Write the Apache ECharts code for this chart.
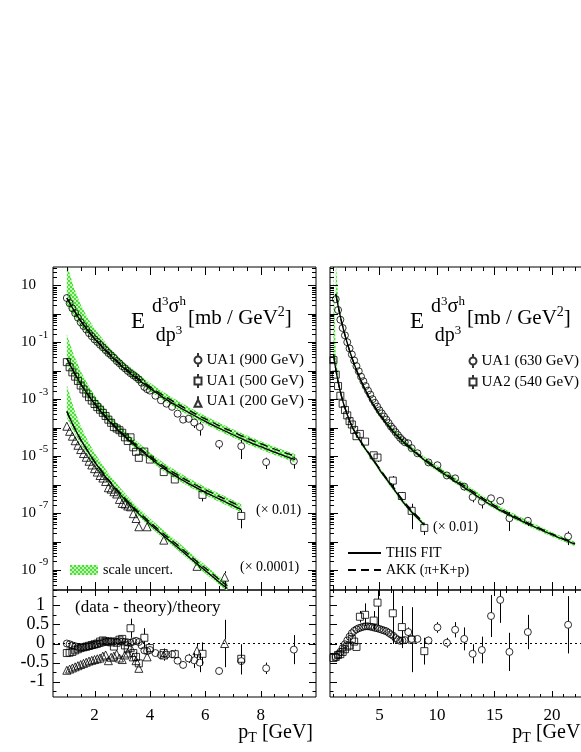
<!DOCTYPE html>
<html>
<head>
<meta charset="utf-8">
<script src="https://cdn.jsdelivr.net/npm/echarts@6/dist/echarts.min.js"></script>
<style>
  html, body { margin: 0; padding: 0; background: #fff; }
  #chart { width: 581px; height: 752px; }
</style>
</head>
<body>
<div id="chart"></div>
<script>
// values on the cross-section panels are log10(E d3sigma/dp3 [mb/GeV^2])

// ---- UA1 900 GeV (circles) ----
const pt900 = [1.0,1.1,1.2,1.3,1.4,1.5,1.6,1.7,1.8,1.9,2.0,2.1,2.2,2.3,2.4,2.5,2.6,2.7,2.8,2.9,3.0,3.1,3.2,3.3,3.4,3.5,3.6,3.7,3.8,3.9,4.0,4.2,4.4,4.6,4.8,5.0,5.2,5.4,5.6,5.8,6.5,7.3,8.2,9.2]
const lg900 = [0.55,0.37,0.19,0.02,-0.14,-0.30,-0.43,-0.55,-0.68,-0.79,-0.90,-0.99,-1.09,-1.18,-1.28,-1.38,-1.46,-1.55,-1.66,-1.74,-1.84,-1.92,-2.01,-2.09,-2.16,-2.23,-2.31,-2.42,-2.57,-2.65,-2.70,-2.88,-3.04,-3.16,-3.27,-3.51,-3.72,-3.69,-3.82,-3.98,-4.57,-4.65,-5.21,-5.18]
const r900 = [0.00,-0.02,-0.05,-0.07,-0.09,-0.10,-0.10,-0.09,-0.08,-0.06,-0.04,-0.02,0.00,0.02,0.04,0.05,0.06,0.06,0.05,0.06,0.05,0.04,0.03,0.02,0.05,0.07,0.04,-0.05,-0.18,-0.20,-0.17,-0.25,-0.30,-0.29,-0.28,-0.45,-0.56,-0.39,-0.44,-0.50,-0.72,-0.46,-0.65,-0.16]
const e900 = [0.02,0.02,0.02,0.02,0.02,0.02,0.02,0.02,0.02,0.02,0.02,0.02,0.02,0.02,0.02,0.02,0.02,0.02,0.02,0.02,0.02,0.02,0.02,0.02,0.02,0.02,0.02,0.04,0.05,0.05,0.05,0.06,0.06,0.07,0.07,0.08,0.10,0.12,0.20,0.25,0.10,0.35,0.15,0.38]

// ---- UA1 500 GeV (squares, x 0.01) ----
const pt500 = [1.0,1.1,1.2,1.3,1.4,1.5,1.6,1.7,1.8,1.9,2.0,2.1,2.2,2.3,2.4,2.5,2.6,2.7,2.8,2.9,3.0,3.1,3.2,3.3,3.4,3.5,3.6,3.8,4.0,4.5,4.9,5.9,7.3]
const lg500 = [-1.70,-1.88,-2.06,-2.21,-2.36,-2.52,-2.66,-2.80,-2.93,-3.05,-3.17,-3.28,-3.37,-3.48,-3.59,-3.72,-3.83,-3.98,-4.03,-4.09,-4.18,-4.34,-4.47,-4.34,-4.69,-4.85,-5.06,-4.84,-5.12,-5.56,-5.82,-6.36,-7.10]
const r500 = [-0.25,-0.24,-0.22,-0.18,-0.15,-0.12,-0.10,-0.08,-0.06,-0.04,-0.02,0.00,0.05,0.08,0.06,0.05,0.03,-0.08,0.02,0.10,0.12,-0.05,-0.15,0.40,-0.25,-0.35,-0.52,0.15,-0.12,-0.25,-0.28,-0.27,-0.40]
const e500 = [0.03,0.03,0.03,0.03,0.03,0.03,0.03,0.03,0.03,0.03,0.03,0.03,0.03,0.03,0.03,0.03,0.03,0.03,0.03,0.03,0.03,0.03,0.08,0.25,0.10,0.12,0.10,0.25,0.10,0.12,0.12,0.30,0.38]

// ---- UA1 200 GeV (triangles, x 0.0001) ----
const pt200 = [1.0,1.1,1.2,1.3,1.4,1.5,1.6,1.7,1.8,1.9,2.0,2.1,2.2,2.3,2.4,2.5,2.6,2.7,2.8,2.9,3.0,3.1,3.2,3.3,3.4,3.5,3.6,3.9,4.5,5.7,6.7]
const lg200 = [-3.95,-4.13,-4.30,-4.46,-4.62,-4.77,-4.91,-5.04,-5.18,-5.31,-5.44,-5.56,-5.68,-5.77,-5.89,-6.11,-6.16,-6.25,-6.33,-6.52,-6.66,-6.68,-6.75,-6.78,-7.02,-7.19,-7.48,-7.48,-7.95,-8.87,-9.25]
const r200 = [-0.70,-0.67,-0.64,-0.61,-0.58,-0.55,-0.52,-0.49,-0.46,-0.44,-0.42,-0.40,-0.38,-0.33,-0.30,-0.45,-0.36,-0.33,-0.28,-0.38,-0.42,-0.30,-0.25,-0.10,-0.35,-0.45,-0.65,-0.35,-0.30,-0.19,0.00]
const e200 = [0.02,0.02,0.02,0.02,0.02,0.02,0.02,0.02,0.02,0.02,0.02,0.02,0.02,0.02,0.02,0.08,0.08,0.08,0.08,0.08,0.08,0.08,0.08,0.08,0.08,0.08,0.08,0.10,0.15,0.20,0.62]

// ---- UA1 630 GeV (circles) ----
const pt630 = [1.2,1.4,1.6,1.8,2.0,2.2,2.4,2.6,2.8,3.0,3.2,3.4,3.6,3.8,4.0,4.2,4.4,4.6,4.8,5.0,5.2,5.4,5.6,5.8,6.0,6.2,6.4,6.6,6.8,7.0,7.2,7.5,7.8,8.3,9.26,10.04,10.86,11.58,12.37,13.1,13.9,14.7,15.5,16.3,17.9,21.4]
const lg630 = [0.51,0.13,-0.21,-0.50,-0.76,-1.00,-1.22,-1.43,-1.64,-1.84,-2.02,-2.21,-2.37,-2.54,-2.70,-2.84,-3.00,-3.13,-3.26,-3.39,-3.50,-3.61,-3.72,-3.84,-3.96,-4.05,-4.16,-4.26,-4.36,-4.44,-4.51,-4.55,-4.72,-4.90,-5.22,-5.32,-5.68,-5.78,-6.07,-6.44,-6.60,-6.48,-6.57,-7.18,-7.27,-7.82]
const r630 = [-0.35,-0.30,-0.22,-0.12,-0.02,0.08,0.18,0.27,0.33,0.37,0.40,0.42,0.44,0.45,0.45,0.44,0.43,0.41,0.40,0.38,0.36,0.34,0.32,0.28,0.24,0.20,0.14,0.10,0.07,0.08,0.09,0.30,0.12,0.12,0.08,0.42,0.02,0.36,0.12,-0.27,-0.17,0.72,1.14,-0.22,0.30,0.49]
const e630 = [0.03,0.03,0.03,0.03,0.03,0.03,0.03,0.03,0.03,0.03,0.03,0.03,0.03,0.03,0.03,0.03,0.03,0.03,0.03,0.03,0.03,0.03,0.03,0.03,0.03,0.03,0.03,0.03,0.03,0.03,0.05,0.12,0.10,0.06,0.10,0.14,0.13,0.20,0.30,0.25,0.35,0.55,0.60,0.50,0.45,0.75]

// ---- UA2 540 GeV (squares, x 0.01) ----
const pt540 = [1.0,1.2,1.4,1.6,1.8,2.0,2.2,2.4,2.6,2.8,3.0,3.3,3.75,4.5,4.83,6.16,6.95,7.8,8.9]
const lg540 = [-1.63,-2.14,-2.54,-2.88,-3.16,-3.38,-3.57,-3.77,-3.89,-4.08,-4.30,-4.22,-4.49,-4.97,-5.05,-5.86,-6.40,-6.92,-7.52]
const r540 = [-0.38,-0.35,-0.30,-0.28,-0.22,-0.15,-0.08,-0.05,0.12,0.05,-0.09,0.70,0.75,0.60,1.07,0.79,0.43,0.10,-0.20]
const e540 = [0.03,0.03,0.03,0.03,0.03,0.03,0.03,0.03,0.03,0.03,0.03,0.15,0.30,0.25,0.60,0.80,0.55,0.85,0.35]

// ---- theory: THIS FIT, AKK and scale band (log10) ----
const th900 = [1.0,1.25,1.5,1.75,2.0,2.5,3.0,3.5,4.0,4.5,5.0,5.5,6.0,6.5,7.0,7.5,8.0,8.5,9.0,9.25]
const fit900 = [0.55,0.13,-0.25,-0.58,-0.88,-1.40,-1.86,-2.26,-2.62,-2.95,-3.25,-3.52,-3.78,-4.02,-4.25,-4.47,-4.67,-4.86,-5.04,-5.12]
const akk900 = [0.55,0.13,-0.25,-0.57,-0.86,-1.37,-1.82,-2.21,-2.56,-2.88,-3.17,-3.44,-3.69,-3.93,-4.15,-4.37,-4.56,-4.75,-4.92,-5.00]
const hi900 = [1.75,0.93,0.32,-0.14,-0.52,-1.14,-1.64,-2.05,-2.42,-2.76,-3.06,-3.33,-3.59,-3.83,-4.06,-4.28,-4.48,-4.67,-4.85,-4.93]
const lo900 = [0.30,-0.07,-0.41,-0.71,-1.00,-1.51,-1.96,-2.36,-2.72,-3.05,-3.35,-3.62,-3.88,-4.12,-4.35,-4.57,-4.77,-4.96,-5.14,-5.22]

const th500 = [1.0,1.25,1.5,1.75,2.0,2.5,3.0,3.5,4.0,4.5,5.0,5.5,6.0,6.5,7.0,7.3]
const fit500 = [-1.57,-2.04,-2.46,-2.83,-3.16,-3.74,-4.23,-4.66,-5.06,-5.43,-5.74,-6.02,-6.27,-6.50,-6.74,-6.88]
const akk500 = [-1.57,-2.04,-2.46,-2.82,-3.14,-3.71,-4.19,-4.61,-5.00,-5.36,-5.66,-5.94,-6.18,-6.41,-6.64,-6.78]
const hi500 = [-0.72,-1.44,-2.01,-2.47,-2.86,-3.50,-4.02,-4.46,-4.87,-5.24,-5.55,-5.83,-6.08,-6.31,-6.55,-6.69]
const lo500 = [-1.79,-2.22,-2.61,-2.96,-3.28,-3.85,-4.33,-4.76,-5.16,-5.53,-5.84,-6.12,-6.37,-6.60,-6.84,-6.98]

const th200 = [1.0,1.25,1.5,1.75,2.0,2.5,3.0,3.5,4.0,4.5,5.0,5.5,6.0,6.5,6.8]
const fit200 = [-3.43,-3.96,-4.42,-4.82,-5.20,-5.85,-6.42,-6.93,-7.38,-7.80,-8.20,-8.62,-9.02,-9.42,-9.65]
const akk200 = [-3.43,-3.96,-4.42,-4.81,-5.18,-5.82,-6.38,-6.88,-7.32,-7.73,-8.12,-8.54,-8.93,-9.33,-9.55]
const hi200 = [-2.50,-3.31,-3.94,-4.44,-4.88,-5.60,-6.20,-6.73,-7.19,-7.61,-8.01,-8.43,-8.83,-9.23,-9.46]
const lo200 = [-3.65,-4.14,-4.57,-4.95,-5.32,-5.96,-6.52,-7.03,-7.48,-7.90,-8.30,-8.72,-9.12,-9.52,-9.75]

const th630 = [1.2,1.4,1.6,1.8,2.0,2.5,3.0,3.5,4.0,4.5,5.0,6.0,7.0,8.0,9.0,10,11,12,13,14,15,16,18,20,22]
const fit630 = [0.70,0.28,-0.10,-0.44,-0.75,-1.42,-1.98,-2.45,-2.86,-3.22,-3.53,-4.05,-4.47,-4.84,-5.17,-5.46,-5.73,-6.00,-6.27,-6.54,-6.79,-7.01,-7.40,-7.76,-8.09]
const akk630 = [0.70,0.28,-0.10,-0.44,-0.75,-1.42,-1.98,-2.45,-2.86,-3.22,-3.52,-4.04,-4.45,-4.81,-5.13,-5.41,-5.68,-5.94,-6.21,-6.48,-6.73,-6.96,-7.36,-7.73,-8.07]
const hi630 = [1.90,0.58,0.05,-0.34,-0.66,-1.34,-1.90,-2.37,-2.78,-3.14,-3.44,-3.96,-4.37,-4.73,-5.05,-5.33,-5.60,-5.86,-6.13,-6.40,-6.65,-6.88,-7.29,-7.67,-8.01]
const lo630 = [0.63,0.21,-0.17,-0.51,-0.82,-1.49,-2.05,-2.52,-2.93,-3.29,-3.60,-4.12,-4.54,-4.91,-5.24,-5.53,-5.80,-6.07,-6.34,-6.61,-6.86,-7.08,-7.47,-7.83,-8.16]

const th540 = [1.0,1.2,1.4,1.6,1.8,2.0,2.5,3.0,3.5,4.0,4.5,5.0,5.5,6.0,6.5,7.0,7.5,8.0,8.5,8.9]
const fit540 = [-1.42,-1.95,-2.38,-2.74,-3.05,-3.31,-3.86,-4.26,-4.58,-4.88,-5.17,-5.47,-5.75,-6.02,-6.30,-6.58,-6.83,-7.05,-7.25,-7.42]
const akk540 = [-1.42,-1.95,-2.38,-2.74,-3.05,-3.31,-3.85,-4.24,-4.56,-4.85,-5.14,-5.43,-5.71,-5.97,-6.25,-6.53,-6.77,-6.99,-7.19,-7.36]
const hi540 = [1.78,-1.45,-2.18,-2.62,-2.95,-3.22,-3.78,-4.18,-4.50,-4.80,-5.09,-5.39,-5.67,-5.94,-6.22,-6.50,-6.75,-6.97,-7.17,-7.34]
const lo540 = [-1.49,-2.02,-2.45,-2.81,-3.12,-3.38,-3.93,-4.33,-4.65,-4.95,-5.24,-5.54,-5.82,-6.09,-6.37,-6.65,-6.90,-7.12,-7.32,-7.49]

// ---- axis ticks / labels ----
const xLabL = [2, 4, 6, 8]
const xLabR = [5, 10, 15, 20]
const yLabLog = [1e1, 1e-1, 1e-3, 1e-5, 1e-7, 1e-9]
const yLabRatio = [-1, -0.5, 0, 0.5, 1]

const FONT = 'Liberation Serif'
const LOG_MIN = Math.pow(10, -9.7)
const LOG_MAX = Math.pow(10, 1.64)

// hatched green fill used by the scale band
const pc = document.createElement('canvas')
pc.width = 4
pc.height = 4
const pctx = pc.getContext('2d')
pctx.fillStyle = '#c2f7b6'
pctx.fillRect(0, 0, 4, 4)
pctx.fillStyle = '#4fdd3d'
pctx.fillRect(0, 0, 2, 2)
pctx.fillRect(2, 2, 2, 2)
const hatch = { image: pc, repeat: 'repeat' }

const pw = v => Math.pow(10, v)

// tick marks: major + minor, drawn on all four sides (inside)
const xMinL = []
for (let v = 1; v < 10; v += 0.5) if (xLabL.indexOf(v) < 0) xMinL.push(v)
const xMinR = []
for (let v = 1; v < 24; v++) if (xLabR.indexOf(v) < 0) xMinR.push(v)
const yMajLog = []
const yMinLog = []
for (let k = -10; k <= 1; k++) {
  if (k >= -9) yMajLog.push(pw(k))
  for (let d = 2; d <= 9; d++) {
    const v = d * pw(k)
    if (v > LOG_MIN && v < LOG_MAX) yMinLog.push(v)
  }
}
const yMinRatio = [-1.25, -0.75, -0.25, 0.25, 0.75, 1.25]

function tickRows(xMaj, xMin, yMaj, yMin, yRef, lens) {
  const d = []
  xMaj.forEach(v => d.push([v, yRef, 0, lens[0]]))
  xMin.forEach(v => d.push([v, yRef, 0, lens[1]]))
  yMaj.forEach(v => d.push([1, v, 1, lens[2]]))
  yMin.forEach(v => d.push([1, v, 1, lens[3]]))
  return d
}

function tickSeries(g, rows) {
  return {
    type: 'custom', xAxisIndex: g, yAxisIndex: g, silent: true, z: 10, clip: false,
    data: rows, encode: { x: 0, y: 1 },
    renderItem: (params, api) => {
      const cs = params.coordSys
      const p = api.coord([api.value(0), api.value(1)])
      const len = api.value(3)
      const st = { stroke: '#000', lineWidth: 1 }
      if (api.value(2) === 0) {
        const x = Math.round(p[0]) + 0.5
        return { type: 'group', children: [
          { type: 'line', shape: { x1: x, y1: cs.y + cs.height, x2: x, y2: cs.y + cs.height - len }, style: st },
          { type: 'line', shape: { x1: x, y1: cs.y, x2: x, y2: cs.y + len }, style: st }
        ] }
      }
      const y = Math.round(p[1]) + 0.5
      return { type: 'group', children: [
        { type: 'line', shape: { x1: cs.x, y1: y, x2: cs.x + len, y2: y }, style: st },
        { type: 'line', shape: { x1: cs.x + cs.width, y1: y, x2: cs.x + cs.width - len, y2: y }, style: st }
      ] }
    }
  }
}

function bandSeries(g, pt, hi, lo) {
  const up = pt.map((x, i) => [x, pw(hi[i])])
  const dn = pt.map((x, i) => [x, pw(lo[i])])
  return {
    type: 'custom', name: 'scale uncert.', xAxisIndex: g, yAxisIndex: g, clip: true, silent: true, z: 1,
    itemStyle: { color: hatch },
    data: pt.map((x, i) => [x, up[i][1], dn[i][1]]), encode: { x: 0, y: 1 },
    renderItem: (params, api) => {
      if (params.dataIndex !== 0) return
      const poly = up.map(p => api.coord(p)).concat(dn.slice().reverse().map(p => api.coord(p)))
      return { type: 'polygon', shape: { points: poly }, style: { fill: hatch } }
    }
  }
}

function curveSeries(g, name, pt, lg, dashed) {
  return {
    type: 'line', name: name, xAxisIndex: g, yAxisIndex: g, z: 2, clip: true,
    symbol: 'none', smooth: 0.3,
    data: pt.map((x, i) => [x, pw(lg[i])]),
    itemStyle: { color: '#000' },
    lineStyle: { color: '#000', width: 1.3, type: dashed ? [8, 5] : 'solid' }
  }
}

function scatterSeries(g, name, sym, size, rows) {
  return {
    type: 'scatter', name: name, xAxisIndex: g, yAxisIndex: g, z: 4, clip: true,
    symbol: sym, symbolSize: size, data: rows,
    itemStyle: { color: 'rgba(0,0,0,0)', borderColor: '#000', borderWidth: 1 }
  }
}

function errSeries(g, rows, size) {
  return {
    type: 'custom', xAxisIndex: g, yAxisIndex: g, silent: true, z: 3, clip: true,
    data: rows, encode: { x: 0, y: 1 },
    renderItem: (params, api) => {
      const x = api.value(0)
      const c = api.coord([x, api.value(1)])
      const lo = api.coord([x, api.value(2)])
      const hi = api.coord([x, api.value(3)])
      const gap = size / 2
      const px = Math.round(c[0]) + 0.5
      const st = { stroke: '#000', lineWidth: 1 }
      const kids = []
      if (c[1] - gap > hi[1]) kids.push({ type: 'line', shape: { x1: px, y1: hi[1], x2: px, y2: c[1] - gap }, style: st })
      if (lo[1] > c[1] + gap) kids.push({ type: 'line', shape: { x1: px, y1: c[1] + gap, x2: px, y2: lo[1] }, style: st })
      return { type: 'group', children: kids }
    }
  }
}

// one data set: top panel (grid gTop) + ratio panel (grid gTop + 1)
function dataSet(gTop, name, sym, size, pt, lg, r, e, zeroLine) {
  const top = pt.map((x, i) => [x, pw(lg[i])])
  const topErr = pt.map((x, i) => {
    const v = pw(lg[i])
    const rel = e[i] / (1 + r[i])
    return [x, v, v * Math.max(1 - rel, 0.02), v * (1 + rel)]
  })
  const rat = pt.map((x, i) => [x, r[i]])
  const ratErr = pt.map((x, i) => [x, r[i], r[i] - e[i], r[i] + e[i]])
  const sRat = scatterSeries(gTop + 1, name, sym, size, rat)
  if (zeroLine) {
    sRat.markLine = {
      silent: true, symbol: 'none', animation: false, label: { show: false },
      lineStyle: { color: '#000', width: 1, type: [2, 3] },
      data: [{ yAxis: 0 }]
    }
  }
  return [
    errSeries(gTop, topErr, size),
    scatterSeries(gTop, name, sym, size, top),
    errSeries(gTop + 1, ratErr, size),
    sRat
  ]
}

const series = [
  bandSeries(0, th900, hi900, lo900),
  bandSeries(0, th500, hi500, lo500),
  bandSeries(0, th200, hi200, lo200),
  bandSeries(2, th630, hi630, lo630),
  bandSeries(2, th540, hi540, lo540),
  curveSeries(0, 'THIS FIT', th900, fit900, false),
  curveSeries(0, 'AKK (π+K+p)', th900, akk900, true),
  curveSeries(0, 'THIS FIT', th500, fit500, false),
  curveSeries(0, 'AKK (π+K+p)', th500, akk500, true),
  curveSeries(0, 'THIS FIT', th200, fit200, false),
  curveSeries(0, 'AKK (π+K+p)', th200, akk200, true),
  curveSeries(2, 'THIS FIT', th630, fit630, false),
  curveSeries(2, 'AKK (π+K+p)', th630, akk630, true),
  curveSeries(2, 'THIS FIT', th540, fit540, false),
  curveSeries(2, 'AKK (π+K+p)', th540, akk540, true),
  ...dataSet(0, 'UA1 (900 GeV)', 'circle', 7, pt900, lg900, r900, e900, true),
  ...dataSet(0, 'UA1 (500 GeV)', 'rect', 7, pt500, lg500, r500, e500, false),
  ...dataSet(0, 'UA1 (200 GeV)', 'triangle', 8, pt200, lg200, r200, e200, false),
  ...dataSet(2, 'UA1 (630 GeV)', 'circle', 7, pt630, lg630, r630, e630, true),
  ...dataSet(2, 'UA2 (540 GeV)', 'rect', 7, pt540, lg540, r540, e540, false),
  tickSeries(0, tickRows(xLabL, xMinL, yMajLog, yMinLog, 1, [8, 4, 8, 4])),
  tickSeries(1, tickRows(xLabL, xMinL, yLabRatio, yMinRatio, 0, [6, 3, 7, 3.5])),
  tickSeries(2, tickRows(xLabR, xMinR, yMajLog, yMinLog, 1, [8, 4, 8, 4])),
  tickSeries(3, tickRows(xLabR, xMinR, yLabRatio, yMinRatio, 0, [6, 3, 7, 3.5]))
]

const gridBase = { show: true, borderColor: '#000', borderWidth: 1, backgroundColor: 'transparent', containLabel: false, outerBoundsMode: 'none' }
const grids = [
  { ...gridBase, left: 53, top: 267, width: 263, height: 323 },
  { ...gridBase, left: 53, top: 590, width: 263, height: 107 },
  { ...gridBase, left: 330, top: 267, width: 268, height: 323 },
  { ...gridBase, left: 330, top: 590, width: 268, height: 107 }
]

const noLine = { axisLine: { show: false }, axisTick: { show: false }, splitLine: { show: false }, minorTick: { show: false } }
const xLabelStyle = vals => ({ show: true, customValues: vals, margin: 10, fontFamily: FONT, fontSize: 17, color: '#000' })

const xAxes = [
  { ...noLine, gridIndex: 0, type: 'value', min: 0.5, max: 10, axisLabel: { show: false } },
  { ...noLine, gridIndex: 1, type: 'value', min: 0.5, max: 10, axisLabel: xLabelStyle(xLabL) },
  { ...noLine, gridIndex: 2, type: 'value', min: 0.7, max: 24, axisLabel: { show: false } },
  { ...noLine, gridIndex: 3, type: 'value', min: 0.7, max: 24, axisLabel: xLabelStyle(xLabR) }
]

const logLabel = {
  show: true, customValues: yLabLog, margin: 32, align: 'left',
  fontFamily: FONT, fontSize: 15, color: '#000',
  formatter: v => {
    const e = Math.round(Math.log10(v))
    return e === 1 ? '{b|10}' : '{b|10}{s|' + e + '}'
  },
  rich: {
    b: { fontFamily: FONT, fontSize: 15, color: '#000' },
    s: { fontFamily: FONT, fontSize: 11, color: '#000', padding: [0, 0, 15, 3] }
  }
}
const ratioLabel = {
  show: true, customValues: yLabRatio, margin: 4,
  fontFamily: FONT, fontSize: 18, color: '#000',
  formatter: v => (Number.isInteger(v) ? '{i|' + v + '}' : '{d|' + v + '}'),
  rich: {
    i: { fontFamily: FONT, fontSize: 18, color: '#000', padding: [0, 4, 0, 0] },
    d: { fontFamily: FONT, fontSize: 18, color: '#000' }
  }
}

const yAxes = [
  { ...noLine, gridIndex: 0, type: 'log', logBase: 10, min: LOG_MIN, max: LOG_MAX, axisLabel: logLabel },
  { ...noLine, gridIndex: 1, type: 'value', min: -1.4, max: 1.4, axisLabel: ratioLabel },
  { ...noLine, gridIndex: 2, type: 'log', logBase: 10, min: LOG_MIN, max: LOG_MAX, axisLabel: { show: false } },
  { ...noLine, gridIndex: 3, type: 'value', min: -1.4, max: 1.4, axisLabel: { show: false } }
]

const circIcon = 'path://M3.5,0L3.5,3.5M7,7A3.5,3.5,0,1,1,0,7A3.5,3.5,0,1,1,7,7M3.5,10.5L3.5,14'
const rectIcon = 'path://M3.5,0L3.5,3.5M0,3.5L7,3.5L7,10.5L0,10.5ZM3.5,10.5L3.5,14'
const triIcon = 'path://M3.5,0L3.5,3.5L7,10.5L0,10.5L3.5,3.5'

const legBase = {
  orient: 'vertical', selectedMode: false, padding: 0, itemWidth: 7, itemHeight: 14, itemGap: 5,
  textStyle: { fontFamily: FONT, fontSize: 15, color: '#000' }
}
const noSym = { opacity: 0 }
const legends = [
  { ...legBase, left: 193.5, top: 352, data: [
    { name: 'UA1 (900 GeV)', icon: circIcon },
    { name: 'UA1 (500 GeV)', icon: rectIcon },
    { name: 'UA1 (200 GeV)', icon: triIcon }
  ] },
  { ...legBase, left: 468.5, top: 353, data: [
    { name: 'UA1 (630 GeV)', icon: circIcon },
    { name: 'UA2 (540 GeV)', icon: rectIcon }
  ] },
  { ...legBase, left: 70, top: 563, itemWidth: 28, itemHeight: 10,
    textStyle: { fontFamily: FONT, fontSize: 14, color: '#000' },
    data: [{ name: 'scale uncert.', icon: 'rect' }] },
  { ...legBase, left: 347, top: 546, itemWidth: 33, itemHeight: 14, itemGap: 3,
    textStyle: { fontFamily: FONT, fontSize: 14, color: '#000' },
    data: [{ name: 'THIS FIT', itemStyle: noSym }, { name: 'AKK (π+K+p)', itemStyle: noSym }] }
]

// graphic text
function txt(x, y, text, size, align, rich) {
  return {
    type: 'text', x: x, y: y, silent: true,
    style: {
      text: text, fill: '#000', font: size + 'px "' + FONT + '"',
      align: align || 'left', textAlign: align || 'left',
      verticalAlign: 'middle', textVerticalAlign: 'middle', rich: rich
    }
  }
}
const supRich = size => ({
  n: { fontFamily: FONT, fontSize: size, fill: '#000' },
  s: { fontFamily: FONT, fontSize: Math.round(size * 0.65), fill: '#000', padding: [0, 0, Math.round(size * 0.55), 0] },
  t: { fontFamily: FONT, fontSize: Math.round(size * 0.7), fill: '#000', padding: [Math.round(size * 0.55), 0, 0, 0] }
})
function formula(x0) {
  return [
    txt(x0, 322, 'E', 23),
    txt(x0 + 38, 307, '{n|d}{s|3}{n|σ}{s|h}', 20, 'center', supRich(20)),
    txt(x0 + 38, 336, '{n|dp}{s|3}', 20, 'center', supRich(20)),
    txt(x0 + 57, 318, '{n|[mb / GeV}{s|2}{n|]}', 21, 'left', supRich(21))
  ]
}
const graphics = [
  ...formula(131),
  ...formula(410),
  txt(256, 510, '(× 0.01)', 14),
  txt(240, 567, '(× 0.0001)', 14),
  txt(433, 527, '(× 0.01)', 14),
  txt(75, 608, '(data - theory)/theory', 17),
  txt(313, 733, '{n|p}{t|T}{n| [GeV]}', 20, 'right', supRich(20)),
  txt(587, 733, '{n|p}{t|T}{n| [GeV]}', 20, 'right', supRich(20))
]

const chart = echarts.init(document.getElementById('chart'))
chart.setOption({
  animation: false,
  backgroundColor: '#fff',
  grid: grids,
  xAxis: xAxes,
  yAxis: yAxes,
  legend: legends,
  graphic: { elements: graphics },
  series: series
})
</script>
</body>
</html>
